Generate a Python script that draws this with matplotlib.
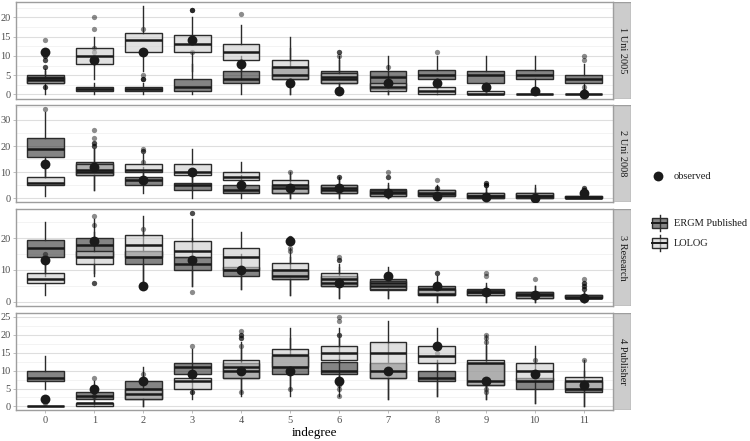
"""
Faceted boxplots: simulated indegree distributions (ERGM Published vs LOLOG)
with the observed count per indegree overlaid. Four networks, free y scales.
"""

import matplotlib
matplotlib.use("Agg")
import matplotlib.pyplot as plt
from matplotlib.colors import to_rgba
from matplotlib.patches import Rectangle
from matplotlib.ticker import MultipleLocator

plt.rcParams["font.family"] = ["Liberation Serif", "DejaVu Serif"]

INDEGREE = list(range(12))
PANELS = ["1 Uni 2005", "2 Uni 2008", "3 Research", "4 Publisher"]

# box stats per indegree: (whisker low, q1, median, q3, whisker high)
UNI05_ERGM = [(0, 3, 4.2, 5, 6.5), (0, 1, 1.5, 2, 3), (0, 1, 1.5, 2, 3), (0, 1, 2, 4, 8),
              (0, 3, 4, 6, 10), (0, 4, 5, 7, 12), (0, 3, 4.5, 6, 10), (0, 1.5, 4.5, 6, 10),
              (0, 4, 5, 6.3, 10), (0, 3, 5, 6, 10), (0, 4, 5, 6.3, 10), (0, 3, 4, 5, 8)]
UNI05_ERGM_OUT = [[7, 9, 10, 14], [11, 12], [4, 5, 17], [11, 22], [], [], [11], [],
                  [11], [], [], [9, 10]]
UNI05_LOLOG = [(3, 3, 3.7, 4.6, 6), (4, 8, 10, 12, 15), (6, 11, 14, 16, 23), (6, 11, 13, 15.3, 20),
               (4, 9, 11, 13, 18), (0, 4, 7, 9, 15), (0, 3, 4, 5.5, 9), (0, 1, 2, 3, 6),
               (0, 0, 1, 2, 4), (0, 0, 0, 1, 2), (0, 0, 0, 0, 0), (0, 0, 0, 0, 0)]
UNI05_LOLOG_OUT = [[2, 2, 7, 9, 10], [17, 20], [4, 4], [22, 22], [21], [], [10, 11], [7],
                   [], [], [], [1, 2]]
UNI05_OBS = [11, 9, 11, 14, 8, 3, 1, 3, 3, 2, 1, 0]

UNI08_ERGM = [(8, 16, 19, 23, 33), (3, 9, 11, 14, 19), (2, 5, 7, 8, 12), (0, 3, 5, 6, 10),
              (0, 2, 3, 5, 9), (0, 2, 4, 5, 9), (0, 2, 4, 5, 8), (0, 1, 2, 3.5, 6),
              (0, 1, 2, 3, 5), (0, 0, 1, 2, 4), (0, 0, 1, 2, 5), (0, 0, 0.5, 1, 2)]
UNI08_ERGM_OUT = [[34], [20, 21, 23, 26], [14], [], [], [10], [], [8, 10],
                  [7], [5, 6], [], [3, 4]]
UNI08_LOLOG = [(1, 5, 6, 8, 12), (3, 9, 10, 13, 19), (6, 10, 11, 13, 17), (3, 9, 10, 13, 19),
               (3, 7, 8, 10, 14), (0, 2, 5, 7, 10), (0, 2, 3, 5, 7), (0, 1, 2.5, 3, 5),
               (0, 1, 1.5, 3, 4), (0, 0, 1, 2, 4), (0, 0, 1, 2, 4), (0, 0, 0, 1, 2)]
UNI08_LOLOG_OUT = [[], [20, 21], [18, 18, 19], [], [], [], [8, 8], [8],
                   [4, 4], [5, 5, 6], [], [3, 3, 4]]
UNI08_OBS = [13, 12, 7, 10, 5, 4, 4, 2, 1, 0.5, 0, 2]

RES_ERGM = [(8, 14, 17, 19.3, 25), (9, 14, 18, 20, 26), (5, 12, 14, 16, 22), (5, 10, 12, 14, 20),
            (4, 8, 10, 11, 15), (2, 7, 8, 10, 14), (1, 5, 6, 8, 11), (1, 3.5, 6, 7, 11),
            (0, 2, 4, 5, 8), (0, 2, 3, 4, 6), (0, 1, 2, 3, 5), (0, 1, 1.5, 2, 3)]
RES_ERGM_OUT = [[], [6, 27], [23], [3], [], [16, 17, 20], [13], [],
                [9], [8, 9], [7], [4, 5, 6, 7]]
RES_LOLOG = [(2, 6, 7, 9, 12), (8, 12, 14, 16, 22), (5, 14, 18, 21, 27), (5, 14, 16, 19, 26),
             (4, 10, 14, 17, 22), (2, 7, 10, 12.3, 17), (1, 5, 7, 9, 12), (1, 4, 5, 6.5, 9),
             (0, 2, 2.5, 4, 6), (0, 2, 3, 3.5, 5), (0, 1, 2.5, 3, 5), (0, 1, 1, 2, 3)]
RES_LOLOG_OUT = [[15], [6, 24], [], [28, 28], [], [19, 20], [13, 14], [],
                 [9], [], [], [4, 5, 6]]
RES_OBS = [13, 19, 5, 13, 10, 19, 6, 8, 5, 3, 2, 1]

PUB_ERGM = [(5, 7, 8, 10, 14), (0, 2, 3, 4, 7), (0, 2, 5, 7, 11), (5, 9, 11, 12, 16),
            (3, 8, 10, 12, 16), (5, 9, 11, 14, 19), (3, 9, 10, 12.3, 19), (2, 8, 10, 12, 18),
            (3, 7, 8, 10, 13), (2, 6, 7, 12, 17), (1, 5, 7, 8, 12), (0, 4, 5, 7, 10)]
PUB_ERGM_OUT = [[], [8], [], [4, 17], [17, 19, 20, 21], [], [5, 6, 20, 20], [],
                [15, 17], [4, 5, 18, 19, 20], [13], [13]]
PUB_LOLOG = [(0, 0, 0, 0, 0), (0, 0, 1, 1, 2), (0, 2, 3.5, 5, 8), (2, 5, 7, 8, 12),
             (4, 8, 11, 13, 18), (3, 11, 14.5, 16, 22), (7, 13, 15, 17, 22), (2, 8, 15, 18, 24),
             (3, 12, 14, 17, 22), (2, 6, 12, 13, 20), (1, 7, 10, 12, 17), (0, 5, 7, 8.3, 13)]
PUB_LOLOG_OUT = [[1, 2], [3, 4, 5], [9], [4], [19, 20, 4], [5], [24, 25, 3], [],
                 [], [], [], []]
PUB_OBS = [2, 5, 7, 9, 10, 10, 7, 10, 17, 7, 9, 6]

# y range and tick step per panel (free scales)
YLIMS = [(-1.2, 24), (-1.4, 35.7), (-1.4, 29.2), (-1.0, 26.1)]
YSTEPS = [5, 10, 10, 5]

ERGM_FILL = to_rgba("#333333", 0.6)
LOLOG_FILL = to_rgba("#cccccc", 0.6)
EDGE = "#2b2b2b"

W, H = 750, 441


def px(left, top, right, bottom):
    return [left / W, 1 - bottom / H, (right - left) / W, (bottom - top) / H]


def make_stats(boxes, outs):
    stats = []
    for (lo, q1, med, q3, hi), fl in zip(boxes, outs):
        stats.append(dict(whislo=lo, q1=q1, med=med, q3=q3, whishi=hi, fliers=fl))
    return stats


def draw_boxes(ax, boxes, outs, fill):
    ax.bxp(make_stats(boxes, outs), positions=[i + 1 for i in INDEGREE], widths=0.75,
           patch_artist=True, showcaps=False,
           boxprops=dict(facecolor=fill, edgecolor=EDGE, linewidth=1.0),
           medianprops=dict(color="#1a1a1a", linewidth=1.8),
           whiskerprops=dict(color=EDGE, linewidth=1.0),
           flierprops=dict(marker="o", markersize=3.8, markerfacecolor="black",
                           markeredgecolor="none", alpha=0.45),
           manage_ticks=False)


data = [
    (UNI05_ERGM, UNI05_ERGM_OUT, UNI05_LOLOG, UNI05_LOLOG_OUT, UNI05_OBS),
    (UNI08_ERGM, UNI08_ERGM_OUT, UNI08_LOLOG, UNI08_LOLOG_OUT, UNI08_OBS),
    (RES_ERGM, RES_ERGM_OUT, RES_LOLOG, RES_LOLOG_OUT, RES_OBS),
    (PUB_ERGM, PUB_ERGM_OUT, PUB_LOLOG, PUB_LOLOG_OUT, PUB_OBS),
]

fig = plt.figure(figsize=(7.5, 4.41), dpi=100)
tops = [2, 105, 209, 313]
PH = 97

for k, (eb, eo, lb, lo, obs) in enumerate(data):
    top = tops[k]
    ax = fig.add_axes(px(16, top, 613, top + PH))
    draw_boxes(ax, eb, eo, ERGM_FILL)
    draw_boxes(ax, lb, lo, LOLOG_FILL)
    ax.scatter([i + 1 for i in INDEGREE], obs, s=50, color="#1a1a1a", zorder=5,
               linewidths=0)

    ax.set_xlim(0.4, 12.6)
    ax.set_ylim(*YLIMS[k])
    step = YSTEPS[k]
    ax.yaxis.set_major_locator(MultipleLocator(step))
    ax.yaxis.set_minor_locator(MultipleLocator(step / 2))
    ax.grid(True, axis="y", which="major", color="#dedede", linewidth=0.8, zorder=0)
    ax.grid(True, axis="y", which="minor", color="#eeeeee", linewidth=0.5, zorder=0)
    ax.set_axisbelow(True)
    ax.set_xticks([i + 1 for i in INDEGREE])
    ax.tick_params(axis="y", which="major", length=2.5, width=0.6, color="#b3b3b3",
                   labelsize=7.5, labelcolor="#4d4d4d", pad=1.5)
    ax.tick_params(axis="y", which="minor", length=0)
    if k == 3:
        ax.set_xticklabels([str(i) for i in INDEGREE])
        ax.tick_params(axis="x", length=2.5, width=0.6, color="#b3b3b3",
                       labelsize=7.5, labelcolor="#4d4d4d", pad=2)
        ax.set_xlabel("indegree", fontsize=9.5, labelpad=1)
    else:
        ax.tick_params(axis="x", length=0, labelbottom=False)
    for sp in ax.spines.values():
        sp.set_color("#9e9e9e")
        sp.set_linewidth(1.0)

    # facet strip on the right
    sax = fig.add_axes(px(613, top, 631, top + PH))
    sax.set_xlim(0, 1)
    sax.set_ylim(0, 1)
    sax.add_patch(Rectangle((0, 0), 1, 1, facecolor="#cccccc", edgecolor="#9e9e9e",
                            linewidth=1.0, transform=sax.transAxes))
    sax.text(0.5, 0.5, PANELS[k], rotation=-90, ha="center", va="center",
             fontsize=7.5, color="#1a1a1a")
    sax.axis("off")

# legend, drawn in pixel units
lax = fig.add_axes(px(640, 150, 750, 290))
lax.set_xlim(640, 750)
lax.set_ylim(290, 150)
lax.axis("off")
lax.scatter([658], [176], s=50, color="#1a1a1a", linewidths=0)
lax.text(674, 176, "observed", fontsize=7.5, va="center", color="#1a1a1a")
for yc, fill, label in [(223, ERGM_FILL, "ERGM Published"), (243, LOLOG_FILL, "LOLOG")]:
    lax.plot([659.5, 659.5], [yc - 8, yc + 8], color=EDGE, linewidth=1.0)
    lax.add_patch(Rectangle((652, yc - 5), 15, 10, facecolor=fill, edgecolor=EDGE,
                            linewidth=1.0, zorder=3))
    lax.plot([652, 667], [yc, yc], color="#1a1a1a", linewidth=1.4, zorder=4)
    lax.text(674, yc, label, fontsize=7.5, va="center", color="#1a1a1a")

fig.savefig("out.png", dpi=100)
